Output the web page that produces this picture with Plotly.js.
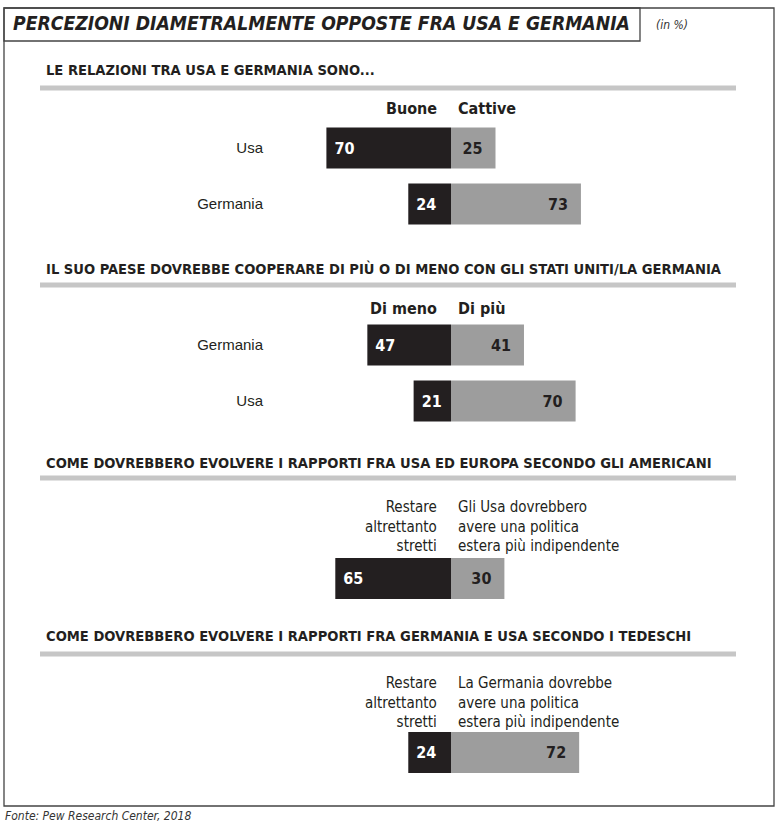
<!DOCTYPE html>
<html>
<head>
<meta charset="utf-8">
<script src="https://cdn.plot.ly/plotly-3.0.1.min.js"></script>
<style>html,body{margin:0;padding:0;background:#fff;}#chart{width:781px;height:827px;}</style>
</head>
<body>
<div id="chart"></div>
<script>
// ---- data ----
var titleText = "PERCEZIONI DIAMETRALMENTE OPPOSTE FRA USA E GERMANIA";
var unitText = "(in %)";
var sourceText = "Fonte: Pew Research Center, 2018";

var s1Title = "LE RELAZIONI TRA USA E GERMANIA SONO...";
var s1Countries = ["Usa", "Germania"];
var s1LeftLabel = "Buone";
var s1RightLabel = "Cattive";
var s1Left = [70, 24];
var s1Right = [25, 73];

var s2Title = "IL SUO PAESE DOVREBBE COOPERARE DI PIÙ O DI MENO CON GLI STATI UNITI/LA GERMANIA";
var s2Countries = ["Germania", "Usa"];
var s2LeftLabel = "Di meno";
var s2RightLabel = "Di più";
var s2Left = [47, 21];
var s2Right = [41, 70];

var s3Title = "COME DOVREBBERO EVOLVERE I RAPPORTI FRA USA ED EUROPA SECONDO GLI AMERICANI";
var s3Countries = ["Usa"];
var s3LeftLabel = "Restare<br>altrettanto<br>stretti";
var s3RightLabel = "Gli Usa dovrebbero<br>avere una politica<br>estera più indipendente";
var s3Left = [65];
var s3Right = [30];

var s4Title = "COME DOVREBBERO EVOLVERE I RAPPORTI FRA GERMANIA E USA SECONDO I TEDESCHI";
var s4Countries = ["Germania"];
var s4LeftLabel = "Restare<br>altrettanto<br>stretti";
var s4RightLabel = "La Germania dovrebbe<br>avere una politica<br>estera più indipendente";
var s4Left = [24];
var s4Right = [72];

// ---- style / layout helpers ----
var W = 781, H = 827;
var DARK = "#231f20", GREY = "#9d9d9d", LINEGREY = "#c6c6c6";
var NARROW = "Liberation Sans Narrow, Arial Narrow, DejaVu Sans Condensed, sans-serif";
var REG = "Liberation Sans, Arial, sans-serif";
function px(x){ return x / W; }
function py(y){ return 1 - y / H; }

var zeroPx = 451, scale = 1.78;
var xRange = [-zeroPx / scale, (W - zeroPx) / scale];

var sections = [
  {title: s1Title, cats: s1Countries, L: s1Left, R: s1Right, lab: [s1LeftLabel, s1RightLabel], top: 120, headY: 70, lineY: 88, colY: 108, multi: false, showTicks: true},
  {title: s2Title, cats: s2Countries, L: s2Left, R: s2Right, lab: [s2LeftLabel, s2RightLabel], top: 317, headY: 268, lineY: 285, colY: 308, multi: false, showTicks: true},
  {title: s3Title, cats: s3Countries, L: s3Left, R: s3Right, lab: [s3LeftLabel, s3RightLabel], top: 558, headY: 462, lineY: 478, colY: 526, multi: true, showTicks: false},
  {title: s4Title, cats: s4Countries, L: s4Left, R: s4Right, lab: [s4LeftLabel, s4RightLabel], top: 732, headY: 635, lineY: 654, colY: 702, multi: true, showTicks: false}
];

var traces = [];
var layout = {
  width: W, height: H,
  margin: {l: 0, r: 0, t: 0, b: 0},
  paper_bgcolor: "#fff", plot_bgcolor: "rgba(0,0,0,0)",
  showlegend: false,
  barmode: "relative",
  bargap: 0.27,
  font: {family: REG, color: DARK, size: 15},
  annotations: [],
  shapes: []
};

sections.forEach(function(s, i){
  var n = i + 1;
  var xa = "x" + (n === 1 ? "" : n), ya = "y" + (n === 1 ? "" : n);
  var xk = "xaxis" + (n === 1 ? "" : n), yk = "yaxis" + (n === 1 ? "" : n);
  var h = 56 * s.cats.length;
  var top = s.multi ? s.top - 7.5 : s.top;
  layout[xk] = {domain: [0, 1], range: xRange, visible: false, fixedrange: true, anchor: ya};
  layout[yk] = {
    domain: [py(top + h), py(top)],
    type: "category", categoryorder: "array", categoryarray: s.cats,
    range: [s.cats.length - 0.5, -0.5],
    anchor: "free", position: px(263),
    showgrid: false, zeroline: false, showline: false, ticks: "",
    showticklabels: s.showTicks,
    tickfont: {family: REG, size: 15, color: DARK}
  };
  traces.push({
    type: "bar", orientation: "h", xaxis: xa, yaxis: ya,
    y: s.cats, x: s.L.map(function(v){ return -v; }),
    text: s.L.map(String), texttemplate: "\u00a0%{text}",
    textposition: "inside", insidetextanchor: "end", constraintext: "none",
    textfont: {family: NARROW, size: 16, color: "#ffffff", weight: "bold"},
    marker: {color: DARK, line: {width: 0}}, hoverinfo: "skip"
  });
  traces.push({
    type: "bar", orientation: "h", xaxis: xa, yaxis: ya,
    y: s.cats, x: s.R,
    text: s.R.map(String), texttemplate: "%{text}\u00a0\u00a0",
    textposition: "inside", insidetextanchor: "end", constraintext: "none",
    textfont: {family: NARROW, size: 16, color: DARK, weight: "bold"},
    marker: {color: GREY, line: {width: 0}}, hoverinfo: "skip"
  });
  // section header
  layout.annotations.push({
    xref: "paper", yref: "paper", x: px(44), y: py(s.headY),
    xanchor: "left", yanchor: "middle", showarrow: false,
    text: "<b>" + s.title + "</b>",
    font: {family: NARROW, size: 14.6, color: DARK}
  });
  layout.shapes.push({
    type: "line", xref: "paper", yref: "paper",
    x0: px(40), x1: px(736), y0: py(s.lineY), y1: py(s.lineY),
    line: {color: LINEGREY, width: 5}
  });
  // column labels
  var lf = s.multi ? {family: NARROW, size: 15, color: DARK} : {family: NARROW, size: 16, color: DARK};
  layout.annotations.push({
    xref: "paper", yref: "paper", x: px(439), y: py(s.colY),
    xanchor: "right", yanchor: "middle", align: "right", showarrow: false,
    text: s.multi ? s.lab[0] : "<b>" + s.lab[0] + "</b>", font: lf
  });
  layout.annotations.push({
    xref: "paper", yref: "paper", x: px(456), y: py(s.colY),
    xanchor: "left", yanchor: "middle", align: "left", showarrow: false,
    text: s.multi ? s.lab[1] : "<b>" + s.lab[1] + "</b>", font: lf
  });
});

// title, unit, source
layout.annotations.push({
  xref: "paper", yref: "paper", x: px(11), y: py(24),
  xanchor: "left", yanchor: "middle", showarrow: false,
  text: "<b><i>" + titleText + "</i></b>",
  font: {family: NARROW, size: 19.2, color: DARK}
});
layout.annotations.push({
  xref: "paper", yref: "paper", x: px(654), y: py(25),
  xanchor: "left", yanchor: "middle", showarrow: false,
  text: "<i>" + unitText + "</i>",
  font: {family: NARROW, size: 12, color: "#333"}
});
layout.annotations.push({
  xref: "paper", yref: "paper", x: px(3), y: py(816),
  xanchor: "left", yanchor: "middle", showarrow: false,
  text: "<i>" + sourceText + "</i>",
  font: {family: NARROW, size: 12, color: "#333"}
});
// frames
layout.shapes.push({type: "rect", xref: "paper", yref: "paper",
  x0: px(4), x1: px(774), y0: py(806), y1: py(8), line: {color: "#444", width: 1.3}});
layout.shapes.push({type: "rect", xref: "paper", yref: "paper",
  x0: px(4), x1: px(640), y0: py(41), y1: py(8), line: {color: "#444", width: 1.3}});

Plotly.newPlot("chart", traces, layout, {displayModeBar: false, staticPlot: true});
</script>
</body>
</html>
